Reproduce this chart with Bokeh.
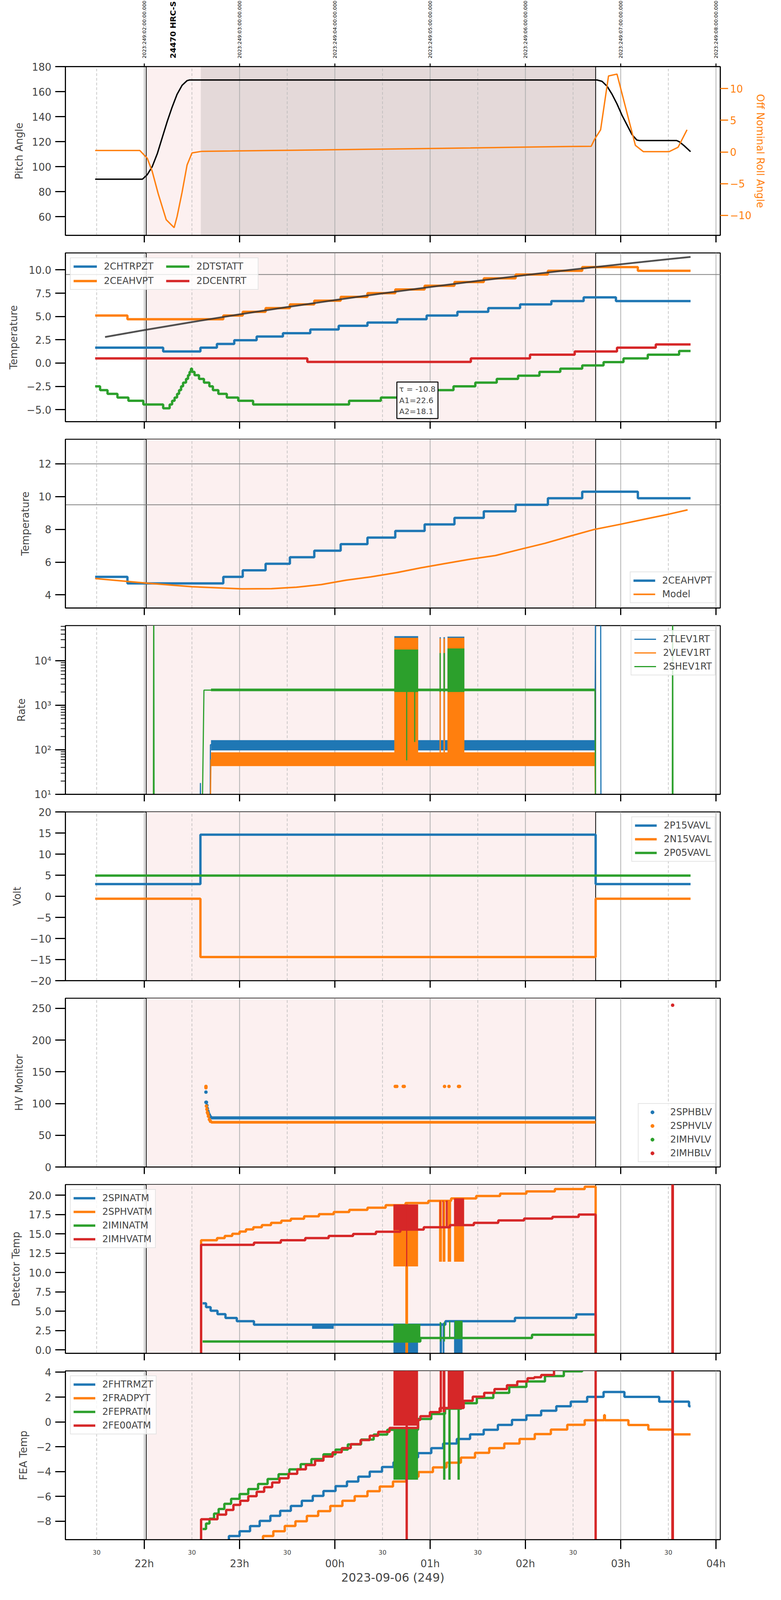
import math
from bokeh.plotting import figure
from bokeh.layouts import column
from bokeh.models import (Range1d, LinearAxis, FixedTicker, CustomJSTickFormatter,
                          BoxAnnotation, Span, Label, Legend, LegendItem)
from bokeh.embed import file_html
from bokeh.resources import INLINE
from bokeh.core.properties import value

FONT = "DejaVu Sans"
BLUE, ORANGE, GREEN, RED = "#1f77b4", "#ff7f0e", "#2ca02c", "#d62728"
NAN = float("nan")

# ---------------- shared time axis (hours UTC, day 249) ----------------
X_RANGE = (1.172, 8.045)
HOUR_TICKS = [2, 3, 4, 5, 6, 7, 8]
HALF_HOUR_TICKS = [1.5, 2.5, 3.5, 4.5, 5.5, 6.5, 7.5]
HOUR_LABELS = ["22h", "23h", "00h", "01h", "02h", "03h", "04h"]
HALF_HOUR_LABELS = ["30", "30", "30", "30", "30", "30", "30"]
TOP_LABELS = ["2023:249:02:00:00.000", "2023:249:03:00:00.000", "2023:249:04:00:00.000",
              "2023:249:05:00:00.000", "2023:249:06:00:00.000", "2023:249:07:00:00.000",
              "2023:249:08:00:00.000"]
DATE_LABEL = "2023-09-06 (249)"
OBS_LABEL = "24470 HRC-S"
OBS_LABEL_T = 2.303
SHADE_START, SHADE_END = 2.02, 6.737
DWELL_START = 2.593

# ---------------- panel 1: pitch / roll ----------------
PITCH_T = [1.484, 1.980, 2.031, 2.083, 2.136, 2.188, 2.240, 2.292, 2.344, 2.396, 2.449, 2.475,
           6.752, 6.804, 6.857, 6.909, 6.961, 7.013, 7.065, 7.117, 7.169, 7.195,
           7.587, 7.613, 7.665, 7.733]
PITCH_V = [90.0, 90.0, 93.6, 100.0, 110.3, 123.2, 136.0, 147.6, 157.9, 165.0, 168.8, 169.3,
           169.3, 168.2, 164.3, 157.9, 150.2, 141.2, 133.5, 125.8, 121.3, 120.9,
           120.9, 120.0, 116.8, 112.0]
ROLL_T = [1.484, 1.953, 2.031, 2.083, 2.146, 2.230, 2.313, 2.344, 2.396, 2.449,
          2.501, 2.605, 2.918, 3.335, 3.857, 4.379, 4.900, 5.422, 5.944, 6.465,
          6.690, 6.726, 6.789, 6.872, 6.961, 7.050, 7.154, 7.237, 7.508, 7.602, 7.696]
ROLL_V = [0.23, 0.23, -1.0, -3.07, -6.6, -10.7, -11.95, -10.2, -6.4, -2.05,
          -0.15, 0.1, 0.15, 0.23, 0.33, 0.43, 0.53, 0.63, 0.76, 0.86,
          0.89, 2.0, 3.5, 12.0, 12.3, 7.1, 1.04, 0.05, 0.05, 0.74, 3.5]

# ---------------- panel 2: temperatures ----------------
CHTRPZT_T = [1.484, 2.198, 2.589, 2.762, 2.944, 3.179, 3.455, 3.742, 4.040, 4.342, 4.655,
             4.963, 5.286, 5.610, 5.944, 6.272, 6.611, 6.950, 7.733]
CHTRPZT_V = [1.65, 1.25, 1.65, 2.05, 2.45, 2.85, 3.2, 3.6, 4.0, 4.35, 4.7,
             5.1, 5.5, 5.9, 6.3, 6.65, 7.05, 6.65, 6.65]
CEAHVPT_T = [1.484, 1.823, 2.829, 3.033, 3.273, 3.528, 3.784, 4.061, 4.342, 4.634, 4.942,
             5.255, 5.563, 5.897, 6.236, 6.596, 7.180, 7.733]
CEAHVPT_V = [5.1, 4.7, 5.1, 5.5, 5.9, 6.3, 6.7, 7.1, 7.5, 7.9, 8.3,
             8.7, 9.1, 9.5, 9.9, 10.3, 9.9, 9.9]
DTSTATT_T = [1.484, 1.536, 1.614, 1.718, 1.833, 1.990, 2.198, 2.266, 2.292, 2.318, 2.344,
             2.365, 2.386, 2.407, 2.438, 2.459, 2.475, 2.490, 2.501, 2.527, 2.574, 2.626,
             2.683, 2.720, 2.777, 2.866, 2.986, 3.142, 4.149, 4.483, 4.744, 5.005, 5.245,
             5.474, 5.699, 5.923, 6.147, 6.366, 6.596, 6.820, 7.029, 7.284, 7.613, 7.733]
DTSTATT_V = [-2.5, -2.9, -3.3, -3.7, -4.05, -4.45, -4.85, -4.45, -4.05, -3.7, -3.3,
             -2.9, -2.5, -2.1, -1.7, -1.3, -0.95, -0.6, -0.95, -1.3, -1.7, -2.1,
             -2.5, -2.9, -3.3, -3.7, -4.05, -4.45, -4.05, -3.7, -3.3, -2.9, -2.5,
             -2.1, -1.7, -1.35, -0.95, -0.6, -0.25, 0.1, 0.5, 0.9, 1.3, 1.3]
DCENTRT_T = [1.484, 3.711, 5.427, 6.048, 6.517, 6.961, 7.368, 7.733]
DCENTRT_V = [0.5, 0.12, 0.5, 0.9, 1.25, 1.65, 2.0, 2.0]
FIT_T = [1.588, 2.0, 2.5, 3.0, 3.5, 4.0, 4.5, 5.0, 5.5, 6.0, 6.5, 7.0, 7.5, 7.733]
FIT_V = [2.80, 3.54, 4.40, 5.23, 6.01, 6.76, 7.48, 8.16, 8.82, 9.44, 10.04, 10.60, 11.15, 11.39]
FIT_TEXT = "\u03c4 = -10.8\nA1=22.6\nA2=18.1"
FIT_TEXT_T = 4.618
LIMIT_P2 = [9.5]

# ---------------- panel 3: CEA HV temperature vs model ----------------
MODEL_T = [1.484, 2.021, 2.501, 3.022, 3.335, 3.596, 3.857, 4.118, 4.379, 4.640, 4.900,
           5.161, 5.422, 5.683, 5.944, 6.205, 6.465, 6.726, 6.987, 7.248, 7.508, 7.702]
MODEL_V = [5.00, 4.72, 4.50, 4.37, 4.38, 4.47, 4.63, 4.90, 5.10, 5.35, 5.65,
           5.92, 6.18, 6.40, 6.78, 7.15, 7.58, 8.00, 8.30, 8.62, 8.93, 9.19]
LIMIT_P3 = [12.0, 9.5]

# ---------------- panel 4: rates (log) ----------------
TLEV_T = [2.585, 2.589, 2.593, 2.690, 2.694, 6.730, 6.737, 6.789, 6.793, 7.733]
TLEV_V = [1, 18, 1, 1, 130, 130, 1e6, 1e6, 1, 1]
VLEV_T = [2.690, 2.699, 6.730, 6.737, 7.733]
VLEV_V = [1, 60, 60, 1, 1]
SHEV_T = [2.095, 2.099, 2.103, 2.605, 2.626, 6.730, 6.737, 7.541, 7.545, 7.549]
SHEV_V = [1, 1e6, 1, 1, 2200, 2200, 1, 1, 1e6, 1]
RATE_BAND_T = [2.700, 6.730]
TLEV_BAND = [97, 165]
VLEV_BAND = [43, 88]
SHEV_BAND = [2080, 2380]
BURST_L = [4.624, 5.099, 5.140, 5.182]
BURST_R = [4.874, 5.112, 5.155, 5.359]
TLEV_BURST_TOP = [3.6e4, 3.4e4, 3.4e4, 3.5e4]
VLEV_BURST_TOP = [3.3e4, 3.2e4, 3.2e4, 3.3e4]
SHEV_BURST_TOP = [1.8e4, 1.5e4, 1.5e4, 1.9e4]
TLEV_BURST_BOT, VLEV_BURST_BOT, SHEV_BURST_BOT = 100, 45, 2000
SHEV_DIP_T = [4.754, 4.838]
SHEV_DIP_LOW = [58, 150]
RATE_TICKS = [10, 100, 1000, 10000]
RATE_MINOR = [m * 10 ** k for k in range(1, 5) for m in range(2, 10)]

# ---------------- panel 5: voltages ----------------
P15_T = [1.484, 2.589, 6.737, 7.733]
P15_V = [2.9, 14.6, 2.9, 2.9]
N15_T = [1.484, 2.589, 6.737, 7.733]
N15_V = [-0.57, -14.4, -0.57, -0.57]
P05_T = [1.484, 7.733]
P05_V = [4.9, 4.9]

# ---------------- panel 6: HV monitor ----------------
SPHBLV_T = [2.647, 2.647, 2.652, 2.657, 2.662, 2.668, 2.673, 2.683, 2.694]
SPHBLV_V = [118, 102, 102, 97, 92, 88, 85, 82, 79]
SPHBLV_DENSE_T = [2.700, 6.737]
SPHBLV_DENSE_V = [77.5, 77.5]
SPHVLV_T = [2.647, 2.647, 2.652, 2.657, 2.662, 2.668, 2.673, 2.683, 2.694,
            4.634, 4.650, 4.718, 4.728, 5.151, 5.198, 5.298, 5.308]
SPHVLV_V = [127, 125, 96, 91, 86, 84, 80, 75, 72,
            127, 127, 127, 127, 127, 127, 127, 127]
SPHVLV_DENSE_T = [2.700, 6.737]
SPHVLV_DENSE_V = [70.5, 70.5]
IMHVLV_T, IMHVLV_V = [NAN], [NAN]
IMHBLV_T, IMHBLV_V = [7.545], [255]

# ---------------- panel 7: detector temps ----------------
SPINATM_T = [2.612, 2.648, 2.696, 2.768, 2.852, 2.971, 3.151, 5.160, 5.890, 6.533, 6.737, 7.733]
SPINATM_V = [6.03, 5.53, 5.07, 4.62, 4.13, 3.71, 3.26, 3.71, 4.15, 4.60, -5, -5]
SPINATM_BLOB = dict(left=[3.761], right=[3.988], bottom=[2.73], top=[3.35])
SPHVATM_T = [2.592, 2.596, 2.763, 2.844, 2.923, 3.000, 3.067, 3.144, 3.234, 3.330,
             3.438, 3.538, 3.677, 3.833, 3.988, 4.151, 4.342, 4.533, 4.742, 4.752,
             4.756, 4.981, 5.220, 5.483, 5.734, 6.010, 6.309, 6.622, 6.737, 7.733]
SPHVATM_V = [-5, 14.18, 14.46, 14.74, 15.02, 15.30, 15.58, 15.86, 16.14, 16.43,
             16.71, 16.96, 17.27, 17.55, 17.83, 18.11, 18.39, 18.71, 18.99, -5,
             18.99, 19.27, 19.59, 19.90, 20.21, 20.49, 20.80, 21.10, -5, -5]
IMINATM_T = [2.612, 4.897, 6.069, 6.737, 7.733]
IMINATM_V = [1.09, 1.54, 1.96, -5, -5]
IMHVATM_T = [2.592, 2.596, 3.151, 3.433, 3.689, 3.935, 4.191, 4.431, 4.687, 4.933,
             5.208, 5.459, 5.715, 5.986, 6.283, 6.559, 6.737, 7.543, 7.547, 7.733]
IMHVATM_V = [-5, 13.59, 13.87, 14.18, 14.46, 14.74, 14.99, 15.28, 15.56, 15.86,
             16.14, 16.43, 16.75, 16.99, 17.20, 17.50, -5, 50, -5, -5]
P7_BLUE_BURST = dict(left=[4.615, 5.100, 5.131, 5.251], right=[4.873, 5.124, 5.150, 5.340],
                     bottom=[-1, -1, -1, -1], top=[3.26, 3.50, 3.50, 3.70])
P7_ORANGE_BURST = dict(left=[4.615, 5.093, 5.131, 5.184, 5.251], right=[4.873, 5.124, 5.160, 5.220, 5.356],
                       bottom=[10.8, 11.4, 11.4, 11.4, 11.4], top=[18.8, 19.3, 19.3, 19.3, 19.6])
P7_GREEN_BURST = dict(left=[4.615, 5.100, 5.143, 5.199, 5.256], right=[4.897, 5.114, 5.156, 5.212, 5.340],
                      bottom=[0.97, 1.09, 1.09, 1.54, 1.54], top=[3.36, 3.60, 3.60, 3.70, 3.76])
P7_RED_BURST = dict(left=[4.615, 4.748, 5.100, 5.131, 5.184, 5.251], right=[4.873, 4.760, 5.110, 5.140, 5.165, 5.356],
                    bottom=[15.5, 10.8, 16.0, 16.0, 16.0, 16.2], top=[18.8, 18.8, 19.3, 19.3, 19.3, 19.6])

# ---------------- panel 8: FEA temps ----------------
FHTRMZT_T = [2.880, 2.888, 3.0, 3.110, 3.211, 3.323, 3.426, 3.538, 3.653, 3.768, 3.880, 4.007,
             4.127, 4.246, 4.366, 4.495, 4.615, 4.789, 4.873, 5.012, 5.136, 5.280, 5.419, 5.562,
             5.711, 5.859, 6.010, 6.165, 6.324, 6.476, 6.648, 6.820, 7.039, 7.404, 7.717, 7.733]
FHTRMZT_V = [-12, -9.19, -8.80, -8.39, -7.97, -7.56, -7.16, -6.77, -6.35, -5.96, -5.56, -5.17,
             -4.80, -4.41, -4.01, -3.63, -3.25, -2.86, -2.51, -2.11, -1.74, -1.37, -1.0, -0.63,
             -0.24, 0.16, 0.53, 0.90, 1.26, 1.63, 2.02, 2.41, 2.02, 1.63, 1.26, 1.26]
FRADPYT_T = [3.240, 3.246, 3.354, 3.474, 3.586, 3.706, 3.825, 3.952, 4.079, 4.208, 4.342, 4.471,
             4.610, 4.749, 4.878, 5.029, 5.172, 5.323, 5.471, 5.620, 5.778, 5.938, 6.098, 6.267,
             6.439, 6.622, 6.826, 6.834, 7.081, 7.290, 7.545, 7.733]
FRADPYT_V = [-12, -9.19, -8.80, -8.38, -8.0, -7.57, -7.18, -6.77, -6.35, -5.98, -5.58, -5.20,
             -4.80, -4.41, -4.04, -3.66, -3.28, -2.87, -2.49, -2.11, -1.74, -1.37, -0.98, -0.62,
             -0.23, 0.14, 0.55, 0.14, -0.25, -0.62, -1.0, -1.0]
FEPRATM_T = [2.612, 2.648, 2.684, 2.732, 2.780, 2.840, 2.911, 3.0, 3.091, 3.194, 3.294, 3.409,
             3.522, 3.641, 3.754, 3.880, 4.007, 4.136, 4.275, 4.407, 4.550, 4.873, 5.012, 5.156,
             5.328, 5.490, 5.663, 5.830, 6.010, 6.205, 6.403, 6.596, 7.733]
FEPRATM_V = [-8.62, -8.18, -7.79, -7.38, -7.01, -6.59, -6.19, -5.81, -5.41, -5.0, -4.60, -4.21,
             -3.82, -3.40, -2.99, -2.61, -2.23, -1.81, -1.42, -1.02, -0.63, 0.24, 0.64, 1.07,
             1.51, 1.93, 2.34, 2.82, 3.26, 3.69, 4.08, 4.5, 4.5]
FE00ATM_T = [2.592, 2.596, 2.768, 2.859, 2.935, 3.007, 3.091, 3.179, 3.258, 3.342, 3.419, 3.514,
             3.605, 3.696, 3.792, 3.880, 3.976, 4.072, 4.167, 4.270, 4.366, 4.455, 4.574, 4.873,
             4.897, 4.998, 5.100, 5.352, 5.447, 5.567, 5.675, 5.806, 5.914, 6.022, 6.093, 6.165,
             6.300, 6.737, 7.543, 7.547, 7.733]
FE00ATM_V = [-12, -7.84, -7.47, -7.09, -6.68, -6.35, -5.98, -5.63, -5.26, -4.88, -4.53, -4.18,
             -3.82, -3.47, -3.12, -2.79, -2.44, -2.11, -1.79, -1.46, -1.11, -0.80, -0.48, 0.16,
             0.46, 0.79, 1.12, 1.70, 2.03, 2.34, 2.65, 2.95, 3.26, 3.52, 3.60, 3.78,
             4.3, -12, 50, -12, -12]
P8_GREEN_BURST = dict(left=[4.615], right=[4.873], bottom=[-4.65], top=[-0.5])
P8_GREEN_SPIKE_T = [5.148, 5.203, 5.299]
P8_GREEN_SPIKE_LOW = [-4.65, -4.65, -4.65]
P8_GREEN_SPIKE_HIGH = [1.07, 1.07, 1.07]
P8_RED_BURST = dict(left=[4.615, 5.100, 5.131, 5.184], right=[4.873, 5.124, 5.160, 5.352],
                    bottom=[-0.3, 0.79, 0.79, 1.12], top=[4.5, 4.5, 4.5, 4.5])
P8_RED_SPIKE_T = [4.754]
P8_RED_SPIKE_LOW = [-12]
P8_RED_SPIKE_HIGH = [50]

# ---------------- layout / style constants ----------------
FRAME_W, FRAME_H = 1677, 432
HEADER_H = 150
TOP_B, BOT_B = 20, 25
XTICK = 18
LW = 6          # thick telemetry lines
TICK_FS = "26px"
LEG_FS = "24px"


# ================= helpers =================
def label_formatter(tick_vals, tick_labels):
    return CustomJSTickFormatter(args=dict(tick_vals=tick_vals, tick_labels=tick_labels), code="""
        for (let i = 0; i < tick_vals.length; i++) {
            if (Math.abs(tick_vals[i] - tick) < 1e-6) { return tick_labels[i]; }
        }
        return '';
    """)


def num_formatter(dec):
    return CustomJSTickFormatter(code="return tick.toFixed(%d).replace('-', '\\u2212');" % dec)


def pow_formatter():
    return CustomJSTickFormatter(code="""
        const sup = {'-':'\\u207b','0':'\\u2070','1':'\\u00b9','2':'\\u00b2','3':'\\u00b3',
                     '4':'\\u2074','5':'\\u2075','6':'\\u2076','7':'\\u2077','8':'\\u2078','9':'\\u2079'};
        const e = Math.round(Math.log10(tick));
        return '10' + String(e).split('').map(c => sup[c]).join('');
    """)


def style_yaxis(ax, ticks, formatter, label, minor=None):
    ax.ticker = FixedTicker(ticks=ticks, minor_ticks=minor or [])
    ax.formatter = formatter
    ax.axis_label = label
    ax.major_tick_out = 26
    ax.major_tick_in = 0
    ax.major_tick_line_width = 3
    ax.minor_tick_out = 12 if minor else 0
    ax.minor_tick_in = 0
    ax.minor_tick_line_width = 2
    ax.axis_line_width = 2.5
    ax.major_label_text_font = FONT
    ax.major_label_text_font_size = TICK_FS
    ax.major_label_standoff = 10
    ax.axis_label_text_font = FONT
    ax.axis_label_text_font_size = TICK_FS
    ax.axis_label_text_font_style = "normal"
    ax.axis_label_standoff = 15


def make_fig(yr, ylabel, yticks, formatter, log=False, top=TOP_B, bottom=BOT_B, minor=None):
    p = figure(frame_width=FRAME_W, frame_height=FRAME_H,
               x_range=Range1d(*X_RANGE), y_range=Range1d(*yr),
               y_axis_type="log" if log else "linear",
               output_backend="svg", toolbar_location=None,
               min_border_left=167, min_border_right=140,
               min_border_top=top, min_border_bottom=bottom)
    p.background_fill_color = "white"
    p.border_fill_color = "white"
    p.outline_line_color = "black"
    p.outline_line_width = 2.5
    p.ygrid.visible = False
    p.xgrid.ticker = FixedTicker(ticks=HOUR_TICKS, minor_ticks=HALF_HOUR_TICKS)
    p.xgrid.grid_line_color = "#b0b0b0"
    p.xgrid.grid_line_width = 2
    p.xgrid.minor_grid_line_color = "#b8b8b8"
    p.xgrid.minor_grid_line_width = 1.5
    p.xgrid.minor_grid_line_dash = "7 5"
    p.add_layout(BoxAnnotation(left=SHADE_START, right=SHADE_END, fill_color="#fcf0f0",
                               fill_alpha=1.0, line_color=None, level="image"))
    for loc in (SHADE_START, SHADE_END):
        p.add_layout(Span(location=loc, dimension="height", line_color="black",
                          line_width=2, level="underlay"))
    style_yaxis(p.yaxis[0], yticks, formatter, ylabel, minor)
    xa = p.xaxis[0]
    xa.ticker = FixedTicker(ticks=HOUR_TICKS)
    xa.formatter = label_formatter(HOUR_TICKS, ["", "", "", "", "", "", ""])
    xa.major_label_text_font_size = "0px"
    xa.major_label_standoff = 0
    xa.major_tick_out = XTICK
    xa.major_tick_in = 0
    xa.major_tick_line_width = 3
    xa.minor_tick_out = 0
    xa.minor_tick_in = 0
    xa.axis_line_width = 2.5
    return p


def add_legend(p, items, location, ncols=1, glyph_width=56, label_width=20, padding=7,
               spacing=7, standoff=18):
    lg = Legend(items=[LegendItem(label=l, renderers=[r]) for l, r in items],
                location=location, ncols=ncols)
    lg.label_text_font = FONT
    lg.label_text_font_size = LEG_FS
    lg.glyph_width = glyph_width
    lg.glyph_height = 22
    lg.label_width = label_width
    lg.label_standoff = standoff
    lg.spacing = spacing
    lg.padding = padding
    lg.margin = 12
    lg.border_line_color = "#cccccc"
    lg.border_line_width = 2
    lg.background_fill_color = "white"
    lg.background_fill_alpha = 0.8
    p.add_layout(lg)


# ================= header (top time labels + obsid) =================
p0 = figure(frame_width=FRAME_W, frame_height=HEADER_H,
            x_range=Range1d(*X_RANGE), y_range=Range1d(0, HEADER_H),
            x_axis_location=None, y_axis_location=None,
            output_backend="svg", toolbar_location=None,
            min_border_left=167, min_border_right=140, min_border_top=0, min_border_bottom=0)
p0.outline_line_color = None
p0.grid.visible = False
p0.background_fill_color = "white"
p0.border_fill_color = "white"
p0.text(x=HOUR_TICKS, y=[1] * len(HOUR_TICKS), text=TOP_LABELS, angle=math.pi / 2,
        text_align="left", text_baseline="middle", text_font=value(FONT),
        text_font_size="12.5px", text_color="black")
p0.text(x=[OBS_LABEL_T], y=[1], text=[OBS_LABEL], angle=math.pi / 2,
        text_align="left", text_baseline="middle", text_font=value(FONT),
        text_font_style="bold", text_font_size="20px", text_color="black")

# ================= panel 1 =================
p1 = make_fig((45.1, 180), "Pitch Angle", [60, 80, 100, 120, 140, 160, 180], num_formatter(0))
p1.add_layout(BoxAnnotation(left=DWELL_START, right=SHADE_END, fill_color="#e4d9d9",
                            fill_alpha=1.0, line_color=None, level="image"))
p1.extra_y_ranges = {"roll": Range1d(-13.17, 13.48)}
ra = LinearAxis(y_range_name="roll")
style_yaxis(ra, [-10, -5, 0, 5, 10], num_formatter(0), "Off Nominal Roll Angle")
ra.major_tick_out = 20
ra.major_label_standoff = 5
ra.axis_label_standoff = 5
ra.major_tick_line_color = ORANGE
ra.major_label_text_color = ORANGE
ra.axis_label_text_color = ORANGE
p1.add_layout(ra, "right")
ta = LinearAxis(ticker=FixedTicker(ticks=HOUR_TICKS),
                formatter=label_formatter(HOUR_TICKS, ["", "", "", "", "", "", ""]))
ta.major_label_text_font_size = "0px"
ta.major_label_standoff = 0
ta.major_tick_out = 8
ta.major_tick_in = 0
ta.major_tick_line_width = 2.5
ta.minor_tick_out = 0
ta.minor_tick_in = 0
ta.axis_line_width = 2.5
p1.add_layout(ta, "above")
p1.line(PITCH_T, PITCH_V, line_color="black", line_width=3.5)
p1.line(ROLL_T, ROLL_V, line_color=ORANGE, line_width=3.5, y_range_name="roll")

# ================= panel 2 =================
p2 = make_fig((-6.29, 11.82), "Temperature", [-5, -2.5, 0, 2.5, 5, 7.5, 10], num_formatter(1))
for lv in LIMIT_P2:
    p2.add_layout(Span(location=lv, dimension="width", line_color="#808080", line_width=2, level="underlay"))
r2b = p2.step(CHTRPZT_T, CHTRPZT_V, mode="after", line_color=BLUE, line_width=LW)
r2o = p2.step(CEAHVPT_T, CEAHVPT_V, mode="after", line_color=ORANGE, line_width=LW)
r2g = p2.step(DTSTATT_T, DTSTATT_V, mode="after", line_color=GREEN, line_width=LW)
r2r = p2.step(DCENTRT_T, DCENTRT_V, mode="after", line_color=RED, line_width=LW)
p2.line(FIT_T, FIT_V, line_color="#333333", line_alpha=0.85, line_width=4.5)
add_legend(p2, [("2CHTRPZT", r2b), ("2CEAHVPT", r2o), ("2DTSTATT", r2g), ("2DCENTRT", r2r)],
           "top_left", ncols=2, glyph_width=60, label_width=150, padding=7, spacing=9, standoff=18)
p2.add_layout(Label(x=FIT_TEXT_T, y=-6.29, text=FIT_TEXT, text_align="left", text_baseline="bottom",
                    text_font=FONT, text_font_size="20px", padding=6,
                    border_line_color="black", border_line_width=2.5,
                    background_fill_color="white", background_fill_alpha=1.0,
                    x_offset=8, y_offset=8))

# ================= panel 3 =================
p3 = make_fig((3.2, 13.5), "Temperature", [4, 6, 8, 10, 12], num_formatter(0))
for lv in LIMIT_P3:
    p3.add_layout(Span(location=lv, dimension="width", line_color="#808080", line_width=2, level="underlay"))
r3a = p3.step(CEAHVPT_T, CEAHVPT_V, mode="after", line_color=BLUE, line_width=LW)
r3m = p3.line(MODEL_T, MODEL_V, line_color=ORANGE, line_width=4)
add_legend(p3, [("2CEAHVPT", r3a), ("Model", r3m)], "bottom_right")

# ================= panel 4 =================
p4 = make_fig((10, 62000), "Rate", RATE_TICKS, pow_formatter(), log=True, minor=RATE_MINOR)
r4b = p4.line(TLEV_T, TLEV_V, line_color=BLUE, line_width=3)
p4.varea(x=RATE_BAND_T, y1=[TLEV_BAND[0]] * 2, y2=[TLEV_BAND[1]] * 2, fill_color=BLUE)
p4.quad(left=BURST_L, right=BURST_R, bottom=[TLEV_BURST_BOT] * len(BURST_L), top=TLEV_BURST_TOP,
        fill_color=BLUE, line_color=None)
r4o = p4.line(VLEV_T, VLEV_V, line_color=ORANGE, line_width=3)
p4.varea(x=RATE_BAND_T, y1=[VLEV_BAND[0]] * 2, y2=[VLEV_BAND[1]] * 2, fill_color=ORANGE)
p4.quad(left=BURST_L, right=BURST_R, bottom=[VLEV_BURST_BOT] * len(BURST_L), top=VLEV_BURST_TOP,
        fill_color=ORANGE, line_color=None)
r4g = p4.line(SHEV_T, SHEV_V, line_color=GREEN, line_width=3)
p4.varea(x=RATE_BAND_T, y1=[SHEV_BAND[0]] * 2, y2=[SHEV_BAND[1]] * 2, fill_color=GREEN)
p4.quad(left=BURST_L, right=BURST_R, bottom=[SHEV_BURST_BOT] * len(BURST_L), top=SHEV_BURST_TOP,
        fill_color=GREEN, line_color=None)
p4.segment(x0=SHEV_DIP_T, y0=SHEV_DIP_LOW, x1=SHEV_DIP_T, y1=[SHEV_BAND[1]] * 2,
           line_color=GREEN, line_width=3)
add_legend(p4, [("2TLEV1RT", r4b), ("2VLEV1RT", r4o), ("2SHEV1RT", r4g)], "top_right")

# ================= panel 5 =================
p5 = make_fig((-20, 20), "Volt", [-20, -15, -10, -5, 0, 5, 10, 15, 20], num_formatter(0))
r5b = p5.step(P15_T, P15_V, mode="after", line_color=BLUE, line_width=LW)
r5o = p5.step(N15_T, N15_V, mode="after", line_color=ORANGE, line_width=LW)
r5g = p5.line(P05_T, P05_V, line_color=GREEN, line_width=LW)
add_legend(p5, [("2P15VAVL", r5b), ("2N15VAVL", r5o), ("2P05VAVL", r5g)], "top_right")

# ================= panel 6 =================
p6 = make_fig((0, 266), "HV Monitor", [0, 50, 100, 150, 200, 250], num_formatter(0))
p6.line(SPHBLV_DENSE_T, SPHBLV_DENSE_V, line_color=BLUE, line_width=8)
r6b = p6.scatter(SPHBLV_T, SPHBLV_V, size=8, color=BLUE)
p6.line(SPHVLV_DENSE_T, SPHVLV_DENSE_V, line_color=ORANGE, line_width=7)
r6o = p6.scatter(SPHVLV_T, SPHVLV_V, size=8, color=ORANGE)
r6g = p6.scatter(IMHVLV_T, IMHVLV_V, size=8, color=GREEN)
r6r = p6.scatter(IMHBLV_T, IMHBLV_V, size=8, color=RED)
add_legend(p6, [("2SPHBLV", r6b), ("2SPHVLV", r6o), ("2IMHVLV", r6g), ("2IMHBLV", r6r)], "bottom_right")

# ================= panel 7 =================
p7 = make_fig((-0.44, 21.38), "Detector Temp", [0, 2.5, 5, 7.5, 10, 12.5, 15, 17.5, 20], num_formatter(1))
r7b = p7.step(SPINATM_T, SPINATM_V, mode="after", line_color=BLUE, line_width=LW)
p7.quad(fill_color=BLUE, line_color=None, **SPINATM_BLOB)
p7.quad(fill_color=BLUE, line_color=None, **P7_BLUE_BURST)
r7o = p7.step(SPHVATM_T, SPHVATM_V, mode="after", line_color=ORANGE, line_width=LW)
p7.quad(fill_color=ORANGE, line_color=None, **P7_ORANGE_BURST)
r7g = p7.step(IMINATM_T, IMINATM_V, mode="after", line_color=GREEN, line_width=LW)
p7.quad(fill_color=GREEN, line_color=None, **P7_GREEN_BURST)
r7r = p7.step(IMHVATM_T, IMHVATM_V, mode="after", line_color=RED, line_width=LW)
p7.quad(fill_color=RED, line_color=None, **P7_RED_BURST)
add_legend(p7, [("2SPINATM", r7b), ("2SPHVATM", r7o), ("2IMINATM", r7g), ("2IMHVATM", r7r)], "top_left")

# ================= panel 8 =================
p8 = make_fig((-9.48, 4.11), "FEA Temp", [-8, -6, -4, -2, 0, 2, 4], num_formatter(0), bottom=5)
r8b = p8.step(FHTRMZT_T, FHTRMZT_V, mode="after", line_color=BLUE, line_width=LW)
r8o = p8.step(FRADPYT_T, FRADPYT_V, mode="after", line_color=ORANGE, line_width=LW)
r8g = p8.step(FEPRATM_T, FEPRATM_V, mode="after", line_color=GREEN, line_width=LW)
p8.quad(fill_color=GREEN, line_color=None, **P8_GREEN_BURST)
p8.segment(x0=P8_GREEN_SPIKE_T, y0=P8_GREEN_SPIKE_LOW, x1=P8_GREEN_SPIKE_T, y1=P8_GREEN_SPIKE_HIGH,
           line_color=GREEN, line_width=LW)
r8r = p8.step(FE00ATM_T, FE00ATM_V, mode="after", line_color=RED, line_width=LW)
p8.quad(fill_color=RED, line_color=None, **P8_RED_BURST)
p8.segment(x0=P8_RED_SPIKE_T, y0=P8_RED_SPIKE_LOW, x1=P8_RED_SPIKE_T, y1=P8_RED_SPIKE_HIGH,
           line_color=RED, line_width=LW)
add_legend(p8, [("2FHTRMZT", r8b), ("2FRADPYT", r8o), ("2FEPRATM", r8g), ("2FE00ATM", r8r)], "top_left")

xa8 = p8.xaxis[0]
xa8.ticker = FixedTicker(ticks=HALF_HOUR_TICKS, minor_ticks=HOUR_TICKS)
xa8.formatter = label_formatter(HALF_HOUR_TICKS, HALF_HOUR_LABELS)
xa8.major_label_text_font = FONT
xa8.major_label_text_font_size = "16px"
xa8.major_label_standoff = 2
xa8.major_tick_out = 0
xa8.minor_tick_out = XTICK + 6
xa8.minor_tick_in = 0
xa8.minor_tick_line_width = 3
xa8.minor_tick_line_color = "black"
xb8 = LinearAxis(ticker=FixedTicker(ticks=HOUR_TICKS),
                 formatter=label_formatter(HOUR_TICKS, HOUR_LABELS), axis_label=DATE_LABEL)
xb8.axis_line_color = None
xb8.major_tick_out = 0
xb8.major_tick_in = 0
xb8.minor_tick_out = 0
xb8.minor_tick_in = 0
xb8.major_label_text_font = FONT
xb8.major_label_text_font_size = "26px"
xb8.major_label_standoff = 5
xb8.axis_label_text_font = FONT
xb8.axis_label_text_font_size = "30px"
xb8.axis_label_text_font_style = "normal"
xb8.axis_label_standoff = 0
p8.add_layout(xb8, "below")

layout = column(p0, p1, p2, p3, p4, p5, p6, p7, p8, spacing=0)
open("out.html", "w", encoding="utf-8").write(file_html(layout, INLINE))
